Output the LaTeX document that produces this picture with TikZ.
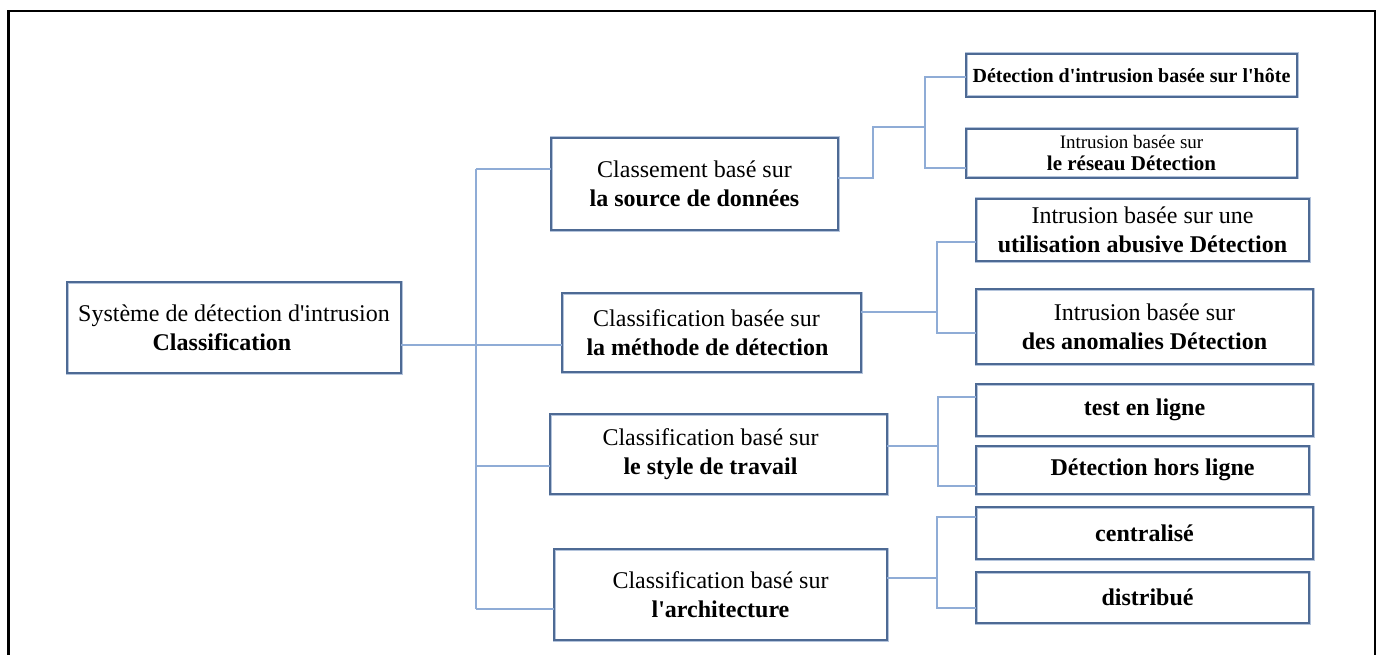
\documentclass[tikz,border=0pt]{standalone}
\usepackage{fontspec}
\setmainfont{Liberation Serif}
\definecolor{boxc}{RGB}{78,106,148}
\definecolor{boxhalo}{RGB}{180,196,220}
\definecolor{linec}{RGB}{143,172,214}
\begin{document}
\begin{tikzpicture}[x=1pt,y=-1pt,
  box/.style={draw=boxc, line width=1.5pt, inner sep=0pt, outer sep=0pt, align=center,
    preaction={draw=boxhalo, line width=3pt},
    font=\fontsize{24}{29}\selectfont},
  conn/.style={draw=linec, line width=1.6pt}]
\useasboundingbox (0,0) rectangle (1381,655);
% outer frame
\draw[black, line width=2.5pt] (8.5,670) -- (8.5,11) -- (1375,11) -- (1375,670);

% root
\node[box, minimum width=334pt, minimum height=91pt] (root) at (234,327.5)
  {Système de détection d\textquotesingle intrusion\\ \textbf{Classification}\hspace*{24pt}};

% level 1
\node[box, minimum width=287pt, minimum height=92pt] (b1) at (694.5,184)
  {Classement basé sur\\ \textbf{la source de données}};
\node[box, minimum width=299pt, minimum height=79pt] (b2) at (711.5,332.5)
  {Classification basée sur\hspace*{10pt}\\ \textbf{la méthode de détection}\hspace*{8pt}};
\node[box, minimum width=337pt, minimum height=80pt] (b3) at (718.5,454)
  {Classification basé sur\hspace*{16pt}\\ \textbf{le style de travail}\hspace*{16pt}};
\node[box, minimum width=333pt, minimum height=91pt] (b4) at (720.5,594.5)
  {Classification basé sur\\ \textbf{l\textquotesingle architecture}};

% leaves
\node[box, minimum width=331pt, minimum height=43pt, font=\fontsize{20}{24}\selectfont\bfseries] (l1) at (1131.5,75.5)
  {Détection d\textquotesingle intrusion basée sur l\textquotesingle hôte};
\node[box, minimum width=331pt, minimum height=49pt, font=\fontsize{19}{22}\selectfont] (l2) at (1131.5,153.5)
  {Intrusion basée sur\\ {\fontsize{21}{23}\selectfont\bfseries le réseau Détection}};
\node[box, minimum width=333pt, minimum height=62pt] (l3) at (1142.5,230)
  {Intrusion basée sur une\\ \textbf{utilisation abusive Détection}};
\node[box, minimum width=337pt, minimum height=75pt] (l4) at (1144.5,326.5)
  {Intrusion basée sur\\ \textbf{des anomalies Détection}};
\node[box, minimum width=337pt, minimum height=52pt, font=\fontsize{24}{29}\selectfont\bfseries] (l5) at (1144.5,410)
  {test en ligne};
\node[box, minimum width=333pt, minimum height=48pt, font=\fontsize{24}{29}\selectfont\bfseries] (l6) at (1142.5,470)
  {\hspace*{20pt}Détection hors ligne};
\node[box, minimum width=337pt, minimum height=52pt, font=\fontsize{24}{29}\selectfont\bfseries] (l7) at (1144.5,533)
  {centralisé};
\node[box, minimum width=333pt, minimum height=51pt, font=\fontsize{24}{29}\selectfont\bfseries] (l8) at (1142.5,597.5)
  {\hspace*{10pt}distribué};

% junction coordinates
\coordinate (j0) at (476,345);
\coordinate (t1) at (476,169);
\coordinate (t3) at (476,466);
\coordinate (t4) at (476,609);

\coordinate (a1) at (873,178);
\coordinate (a2) at (873,127);
\coordinate (a3) at (925,127);
\coordinate (v1t) at (925,77);
\coordinate (v1b) at (925,168);

\coordinate (c1) at (937,312);
\coordinate (v2t) at (937,242);
\coordinate (v2b) at (937,333);

\coordinate (d1) at (938,446);
\coordinate (v3t) at (938,397);
\coordinate (v3b) at (938,486);

\coordinate (e1) at (937,578);
\coordinate (v4t) at (937,517);
\coordinate (v4b) at (937,608);

% trunk
\draw[conn] (root.east |- j0) -- (b2.west |- j0);
\draw[conn] (t1) -- (t4);
\draw[conn] (t1) -- (b1.west |- t1);
\draw[conn] (t3) -- (b3.west |- t3);
\draw[conn] (t4) -- (b4.west |- t4);

% branch 1
\draw[conn] (b1.east |- a1) -- (a1) -- (a2) -- (a3);
\draw[conn] (l1.west |- v1t) -- (v1t) -- (v1b) -- (l2.west |- v1b);
% branch 2
\draw[conn] (b2.east |- c1) -- (c1);
\draw[conn] (l3.west |- v2t) -- (v2t) -- (v2b) -- (l4.west |- v2b);
% branch 3
\draw[conn] (b3.east |- d1) -- (d1);
\draw[conn] (l5.west |- v3t) -- (v3t) -- (v3b) -- (l6.west |- v3b);
% branch 4
\draw[conn] (b4.east |- e1) -- (e1);
\draw[conn] (l7.west |- v4t) -- (v4t) -- (v4b) -- (l8.west |- v4b);
\end{tikzpicture}
\end{document}
